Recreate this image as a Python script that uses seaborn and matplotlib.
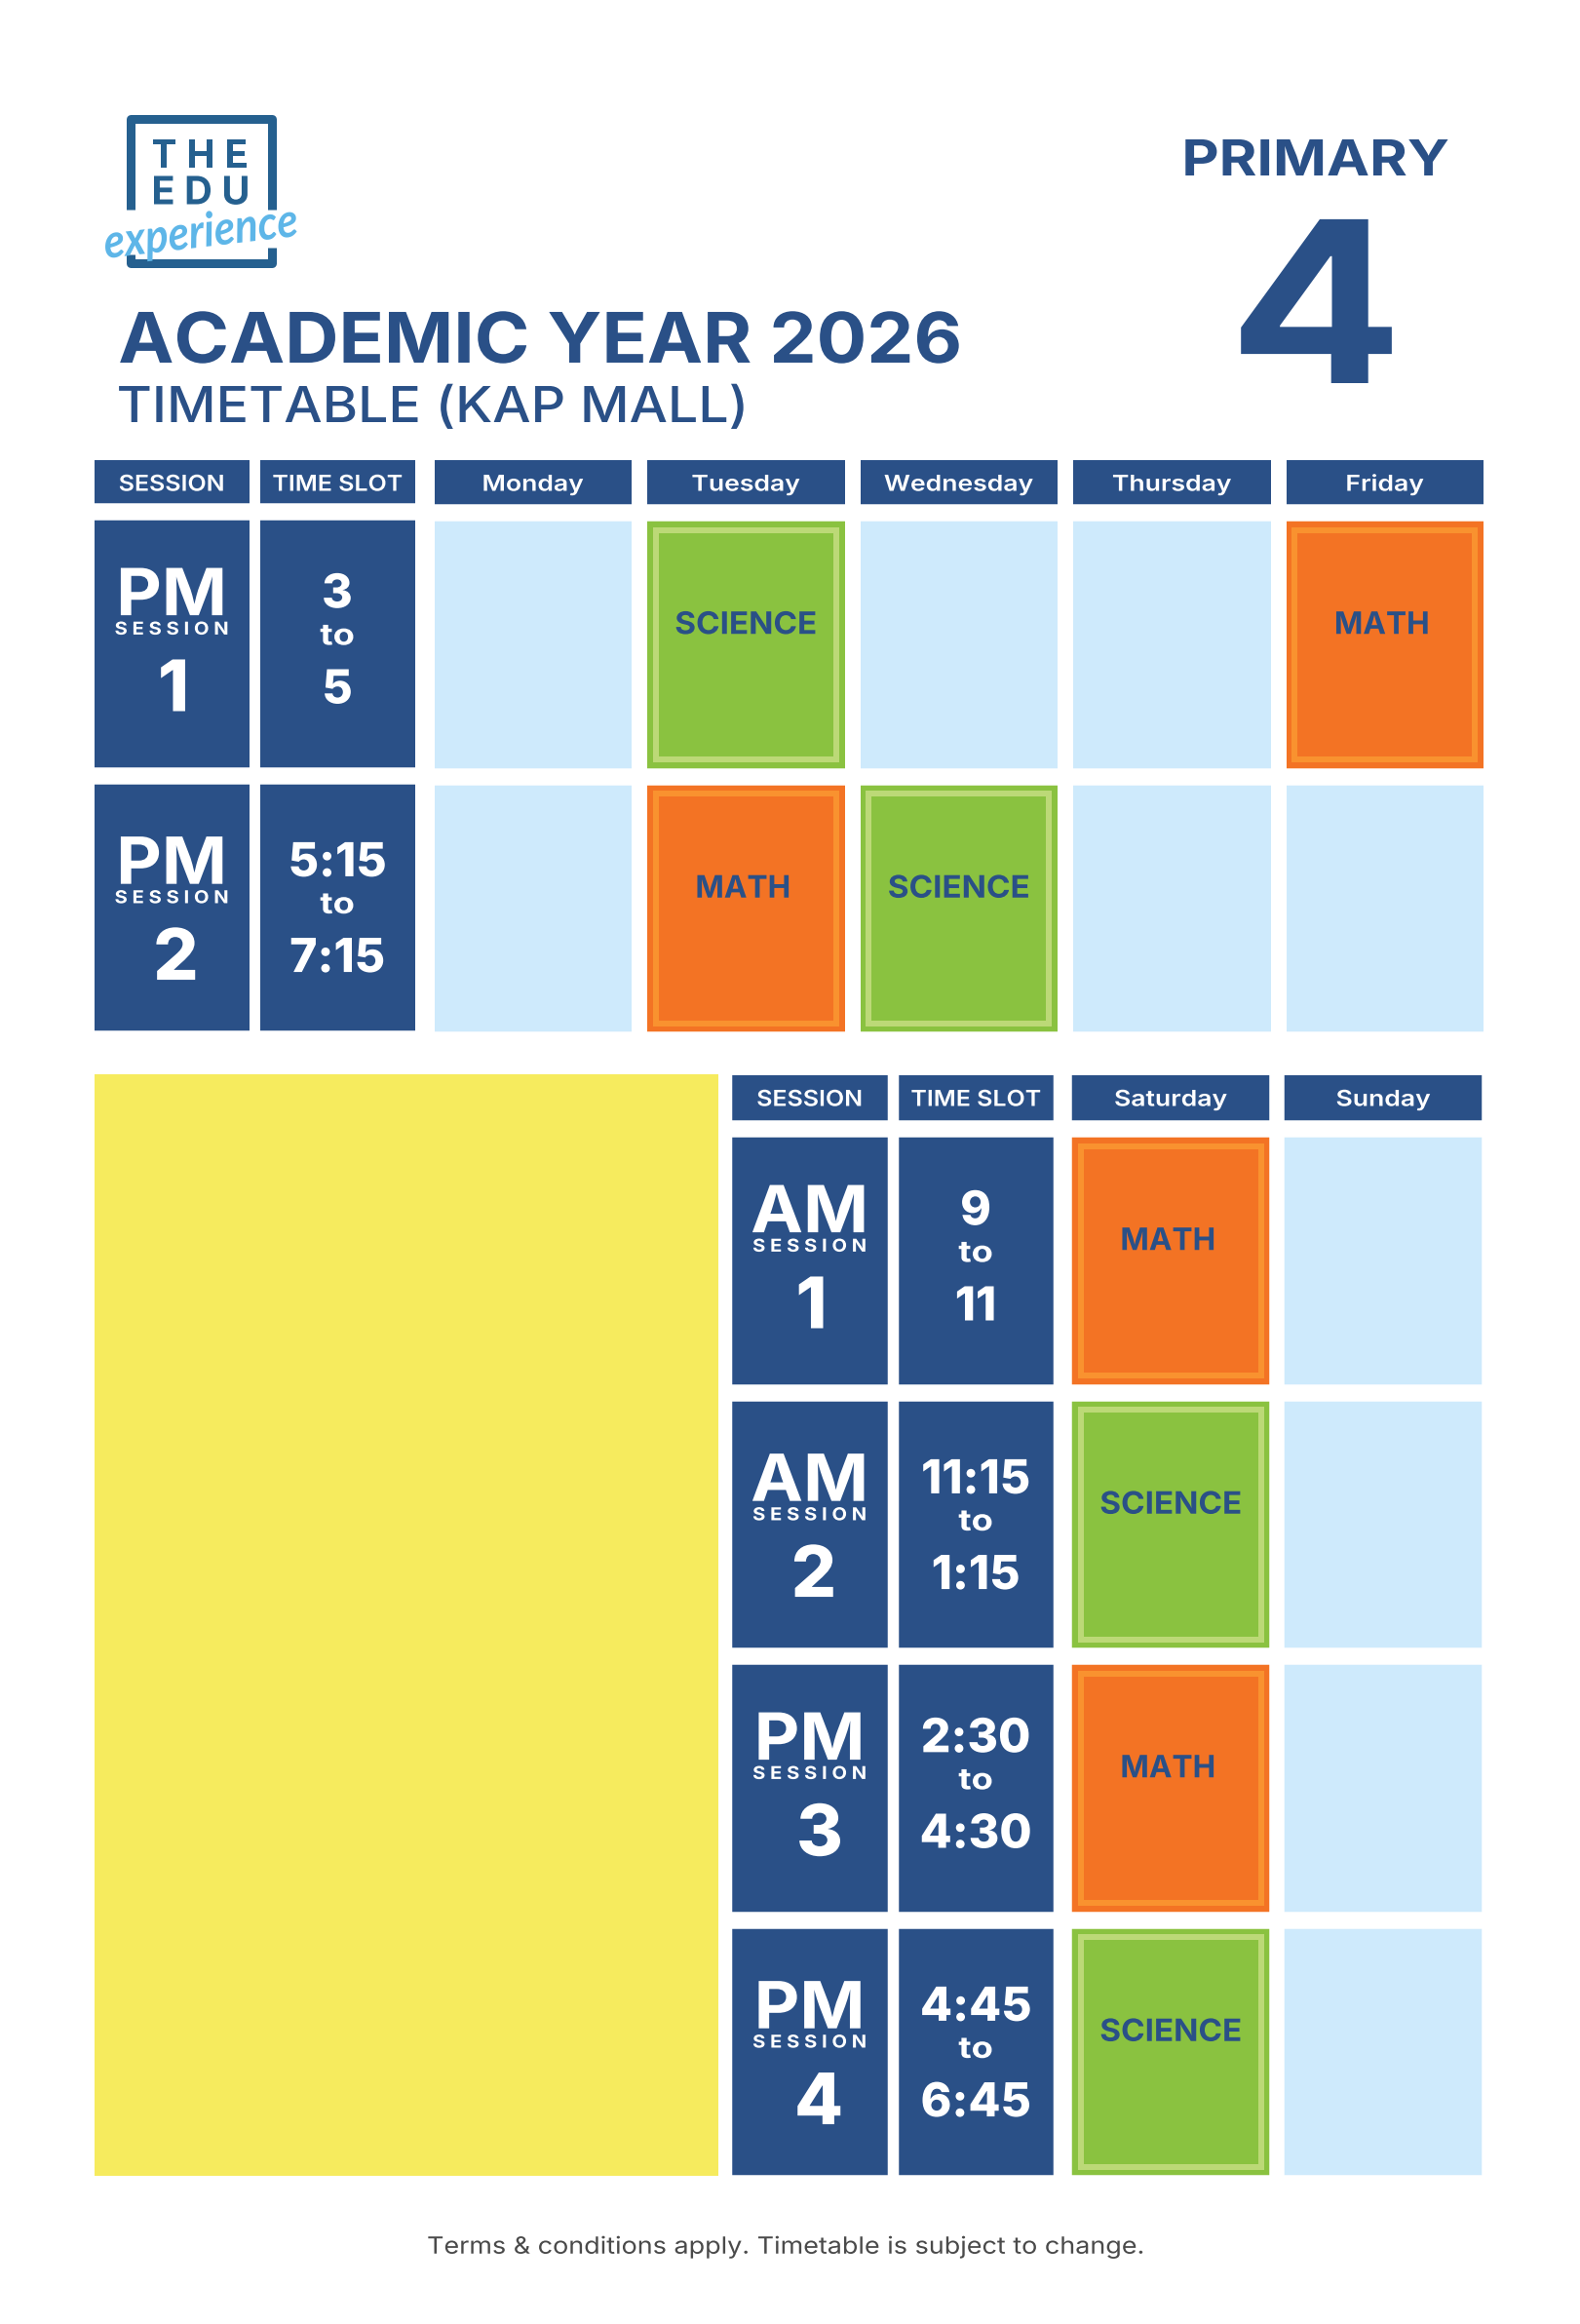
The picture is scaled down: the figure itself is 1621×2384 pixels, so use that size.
import seaborn as sns
import matplotlib.pyplot as plt
import numpy as np
from matplotlib.colors import ListedColormap
from matplotlib.patches import Rectangle
from matplotlib.patheffects import AbstractPathEffect
from matplotlib.transforms import Affine2D

# Timetable content
session_header = ["SESSION", "TIME SLOT"]

upper_days = ["Monday", "Tuesday", "Wednesday", "Thursday", "Friday"]
upper_periods = ["PM", "PM"]
upper_numbers = ["1", "2"]
upper_starts = ["3", "5:15"]
upper_ends = ["5", "7:15"]
upper_subjects = [["", "SCIENCE", "", "", "MATH"],
                  ["", "MATH", "SCIENCE", "", ""]]

lower_days = ["Saturday", "Sunday"]
lower_periods = ["AM", "AM", "PM", "PM"]
lower_numbers = ["1", "2", "3", "4"]
lower_starts = ["9", "11:15", "2:30", "4:45"]
lower_ends = ["11", "1:15", "4:30", "6:45"]
lower_subjects = [["MATH", ""], ["SCIENCE", ""], ["MATH", ""], ["SCIENCE", ""]]

# Colours
BLUE = "#2A5087"
LOGO = "#25608F"
SKY = "#5EB6E8"
SUBJECT_CODE = {"": 0, "MATH": 1, "SCIENCE": 2}
SUBJECT_COLORS = ["#CEEAFC", "#F37324", "#8AC240"]
BAND_COLORS = {"MATH": "#F9922F", "SCIENCE": "#BCD977"}

FONT = "Inter"
CAP = 0.727
W, H = 1621, 2384
ROW_H, ROW_GAP = 253, 17.5
px = 0.72

sns.set_theme(style="white")
plt.rcParams["font.family"] = [FONT, "DejaVu Sans"]

fig = plt.figure(figsize=(W / 100, H / 100), dpi=100, facecolor="white")
canvas = fig.add_axes([0, 0, 1, 1])
canvas.set_xlim(0, W)
canvas.set_ylim(H, 0)
canvas.axis("off")


class Widen(AbstractPathEffect):
    # the reference type is wider than anything installed, stretch the glyphs a bit
    def __init__(self, k):
        super().__init__()
        self.k = k

    def draw_path(self, renderer, gc, tpath, affine, rgbFace=None):
        box = tpath.get_extents(affine)
        mid = (box.x0 + box.x1) / 2
        stretched = affine + Affine2D().translate(-mid, 0).scale(self.k, 1).translate(mid, 0)
        renderer.draw_path(gc, tpath, stretched, rgbFace)


def grid(values, colors, left, top, col_w, row_h, xgap, ygap):
    # heatmap whose cells are pulled apart by white rules
    values = np.asarray(values)
    rows, cols = values.shape
    w = cols * (col_w + xgap)
    h = rows * (row_h + ygap)
    ax = fig.add_axes([(left - xgap / 2) / W, 1 - (top - ygap / 2 + h) / H, w / W, h / H])
    sns.heatmap(values, ax=ax, cmap=ListedColormap(colors), vmin=-0.5, vmax=len(colors) - 0.5,
                cbar=False, xticklabels=False, yticklabels=False, linewidths=0)
    # rules run 2 px past the axes so no sliver of the mesh is left at the edge
    ext_x, ext_y = 2 / (col_w + xgap), 2 / (row_h + ygap)
    if xgap:
        ax.vlines(np.arange(cols + 1), -ext_y, rows + ext_y, color="white", lw=xgap * px, clip_on=False)
    if ygap:
        ax.hlines(np.arange(rows + 1), -ext_x, cols + ext_x, color="white", lw=ygap * px, clip_on=False)
    return ax


def cap_text(ax, x, y, s, cap, color="white", weight="bold", dx=0, k=1.0):
    # y is the middle of the capitals, cap their height in pixels
    ax.annotate(s, (x, y), xytext=(dx * px, -cap / 2 * px), textcoords="offset points",
                ha="center", va="baseline", color=color, fontweight=weight,
                fontsize=cap / CAP * px, annotation_clip=False, path_effects=[Widen(k)])


def row_y(row, frac):
    return row + (ROW_GAP / 2 + frac * ROW_H) / (ROW_H + ROW_GAP)


def header(labels, left, top, col_w, xgap):
    ax = grid([[0] * len(labels)], [BLUE], left, top, col_w, 46.5, xgap, 0)
    for c, name in enumerate(labels):
        k = 1.1 if name.isupper() else 1.17
        cap_text(ax, c + 0.5, 0.5, name, 16.5, weight="semibold", k=k)


def sessions(left, top, xgap, periods, numbers, starts, ends, digit_dx):
    values = np.zeros((len(periods), 2), dtype=int)
    ax = grid(values, [BLUE], left, top, 159, ROW_H, xgap, ROW_GAP)
    for r in range(len(periods)):
        shift = 0.02 * (r % 2)
        cap_text(ax, 0.5, row_y(r, 0.288 + shift), periods[r], 48.5, k=1.08)
        cap_text(ax, 0.5, row_y(r, 0.436 + shift), " ".join("SESSION"), 13.2, k=1.11)
        cap_text(ax, 0.5, row_y(r, 0.668 + shift), numbers[r], 53, weight="heavy", dx=digit_dx[r])
        cap_text(ax, 1.5, row_y(r, 0.284 + shift), starts[r], 35, weight="heavy")
        cap_text(ax, 1.5, row_y(r, 0.46 + shift), "to", 22, k=1.2)
        cap_text(ax, 1.5, row_y(r, 0.672 + shift), ends[r], 35, weight="heavy")


def days(left, top, col_w, xgap, subjects):
    codes = [[SUBJECT_CODE[s] for s in row] for row in subjects]
    ax = grid(codes, SUBJECT_COLORS, left, top, col_w, ROW_H, xgap, ROW_GAP)
    pitch_x = col_w + xgap
    pitch_y = ROW_H + ROW_GAP
    ins_x = (xgap / 2 + 8.6) / pitch_x
    ins_y = (ROW_GAP / 2 + 8.6) / pitch_y
    for r, row in enumerate(subjects):
        for c, name in enumerate(row):
            if not name:
                continue
            ax.add_patch(Rectangle((c + ins_x, r + ins_y), 1 - 2 * ins_x, 1 - 2 * ins_y, fill=False,
                                   ec=BAND_COLORS[name], lw=6 * px, joinstyle="miter"))
            math = name == "MATH"
            cap_text(ax, c + 0.5, row_y(r, 0.41), name, 23, color=BLUE,
                     dx=-3 if math else 0, k=1.0 if math else 1.05)


# Upper table
header(session_header, 96.5, 472, 159, 11)
header(upper_days, 445.5, 472, 202.5, 16)
sessions(96.5, 534, 11, upper_periods, upper_numbers, upper_starts, upper_ends, [2, 4.5])
days(445.5, 535, 202.5, 16, upper_subjects)

# Lower table with the empty yellow panel on its left
yellow = grid([[0]], ["#F6EB5E"], 97, 1102, 640, 1130, 0, 0)
header(session_header, 751, 1103, 159, 11.5)
header(lower_days, 1100, 1103, 202.5, 15.5)
sessions(751, 1167, 11.5, lower_periods, lower_numbers, lower_starts, lower_ends, [2, 4.5, 10.5, 9.5])
days(1100, 1167, 202.5, 15.5, lower_subjects)

# Logo
frame = [[(134, 215), (134, 121.5), (279, 121.5), (279, 215)],
         [(134, 261), (134, 269.5), (279, 269.5), (279, 254)]]
for part in frame:
    xs, ys = zip(*part)
    canvas.plot(xs, ys, color=LOGO, lw=9 * px, solid_joinstyle="round", solid_capstyle="butt")
cap_text(canvas, 205, 157.5, "T H E", 29, color=LOGO)
cap_text(canvas, 206, 195, "E D U", 29, color=LOGO)
canvas.text(206, 239, "experience", color=SKY, fontsize=35, style="italic", fontweight="bold",
            family="Lato", ha="center", va="center", rotation=6, path_effects=[Widen(0.9)])

# Titles
cap_text(canvas, 554, 346, "ACADEMIC YEAR 2026", 52, color=BLUE, k=1.07)
cap_text(canvas, 444, 414.5, "TIMETABLE (KAP MALL)", 37, color=BLUE, weight="medium", k=1.09)
cap_text(canvas, 1350, 161.5, "PRIMARY", 37, color=BLUE, k=1.16)
cap_text(canvas, 1350, 309, "4", 168, color=BLUE, k=1.15)

# Footer
cap_text(canvas, 806, 2303, "Terms & conditions apply. Timetable is subject to change.", 17.5,
         color="#4A4A4A", weight="normal", k=1.12)

fig.savefig("out.png", dpi=100)
